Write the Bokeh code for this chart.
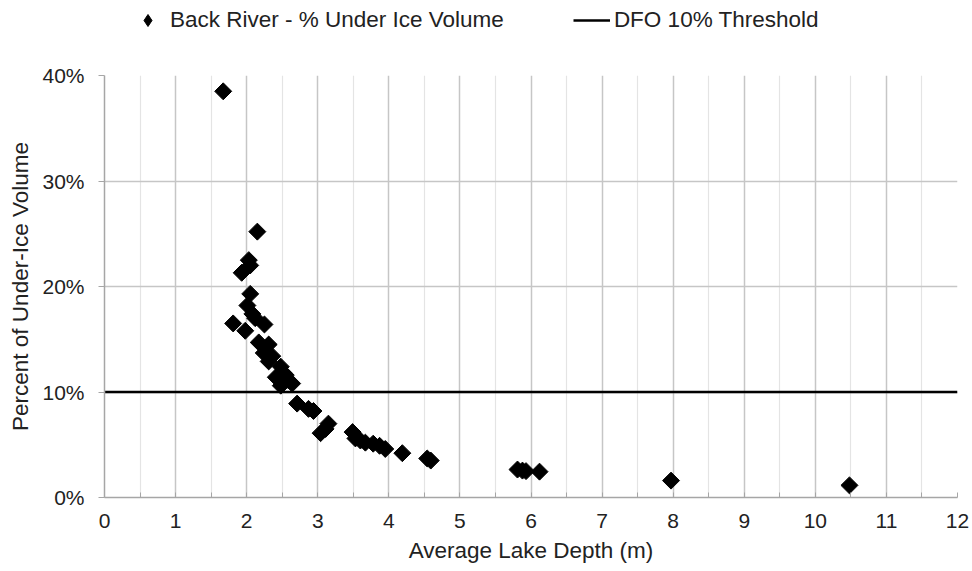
import math

from bokeh.embed import file_html
from bokeh.layouts import column
from bokeh.models import (FixedTicker, Legend, LegendItem, PrintfTickFormatter,
                          Range1d)
from bokeh.plotting import figure
from bokeh.resources import INLINE

# Average lake depth (m) and share of volume remaining under ice (%)
depth_m = [1.67, 2.15, 2.03, 2.05, 1.93, 2.05, 2.01, 2.08, 2.12, 1.81,
           1.98, 2.25, 2.17, 2.31, 2.24, 2.31, 2.36, 2.48, 2.41, 2.52,
           2.55, 2.59, 2.48, 2.64, 2.71, 2.87, 2.94, 3.15, 3.04, 3.11,
           3.49, 3.53, 3.60, 3.67, 3.78, 3.87, 3.95, 4.19, 4.54, 4.59,
           5.81, 5.88, 5.93, 6.12, 7.97, 10.48]
under_ice_pct = [38.5, 25.2, 22.5, 22.0, 21.3, 19.3, 18.2, 17.4, 17.0, 16.5,
                 15.8, 16.4, 14.7, 14.5, 13.7, 12.9, 13.4, 12.4, 11.4, 11.8,
                 11.6, 11.1, 10.6, 10.8, 8.9, 8.4, 8.2, 7.0, 6.1, 6.5,
                 6.2, 5.6, 5.4, 5.2, 5.1, 4.9, 4.6, 4.2, 3.7, 3.5,
                 2.65, 2.55, 2.5, 2.45, 1.6, 1.15]

threshold_pct = 10
x_ticks = list(range(0, 13))
y_ticks = [0, 10, 20, 30, 40]

series_label = "Back River - % Under Ice Volume"
threshold_label = "DFO 10% Threshold"

FONT = "Liberation Sans"
TEXT = "#222222"
LEGEND_H = 45

# ---------------------------------------------------------------- main chart
p = figure(width=972, height=571 - LEGEND_H, output_backend="svg",
           toolbar_location=None,
           x_range=Range1d(x_ticks[0], x_ticks[-1]),
           y_range=Range1d(y_ticks[0], y_ticks[-1]),
           min_border_left=104, min_border_right=15,
           min_border_top=30, min_border_bottom=74)
p.outline_line_color = None
p.background_fill_color = "white"
p.border_fill_color = "white"

# threshold line across the full depth range
p.line([x_ticks[0], x_ticks[-1]], [threshold_pct, threshold_pct],
       line_color="black", line_width=2.5)

# points drawn as diamonds (squares turned 45 degrees)
p.scatter(depth_m, under_ice_pct, marker="square", angle=math.pi / 4,
          size=12, fill_color="black", line_color="black")

# axes
p.xaxis.ticker = FixedTicker(ticks=x_ticks,
                             minor_ticks=[t + 0.5 for t in x_ticks[:-1]])
p.yaxis.ticker = FixedTicker(ticks=y_ticks, minor_ticks=[])
p.yaxis.formatter = PrintfTickFormatter(format="%d%%")

p.xaxis.axis_label = "Average Lake Depth (m)"
p.yaxis.axis_label = "Percent of Under-Ice Volume"

for ax in (p.xaxis, p.yaxis):
    ax.axis_line_color = "#a6a6a6"
    ax.axis_line_width = 1.5
    ax.major_tick_line_color = "#a6a6a6"
    ax.minor_tick_line_color = "#a6a6a6"
    ax.major_label_text_font = FONT
    ax.major_label_text_font_size = "21px"
    ax.major_label_text_color = TEXT
    ax.axis_label_text_font = FONT
    ax.axis_label_text_font_size = "22.5px"
    ax.axis_label_text_font_style = "normal"
    ax.axis_label_text_color = TEXT

p.xaxis.major_tick_in = 5
p.xaxis.major_tick_out = 0
p.xaxis.minor_tick_in = 5
p.xaxis.minor_tick_out = 0
p.xaxis.major_label_standoff = 16
p.xaxis.axis_label_standoff = 7

p.yaxis.major_tick_in = 0
p.yaxis.major_tick_out = 6
p.yaxis.minor_tick_in = 0
p.yaxis.minor_tick_out = 0
p.yaxis.major_label_standoff = 14
p.yaxis.axis_label_standoff = 6

# grid
p.xgrid.grid_line_color = "#c6c6c6"
p.xgrid.grid_line_width = 1.5
p.xgrid.minor_grid_line_color = "#e4e4e4"
p.xgrid.minor_grid_line_width = 1.2
p.ygrid.grid_line_color = "#c6c6c6"
p.ygrid.grid_line_width = 1.5

# ---------------------------------------------------------------- legend strip
lg = figure(width=972, height=LEGEND_H, output_backend="svg",
            toolbar_location=None, x_axis_location=None, y_axis_location=None,
            min_border=0, x_range=Range1d(0, 1), y_range=Range1d(0, 1))
lg.outline_line_color = None
lg.grid.visible = False
lg.border_fill_color = "white"

# hidden copies of the two series, used only for their legend swatches
key_pts = lg.scatter(depth_m, under_ice_pct, marker="diamond",
                     fill_color="black", line_color="black", visible=False)
key_thr = lg.line([x_ticks[0], x_ticks[-1]], [threshold_pct, threshold_pct],
                  line_color="black", line_width=2.5, visible=False)

# the strip's frame lines up with the chart frame, so x is measured from it
legend = Legend(items=[LegendItem(label=series_label, renderers=[key_pts]),
                       LegendItem(label=threshold_label, renderers=[key_thr])],
                location=(25, LEGEND_H - 35), orientation="horizontal",
                glyph_width=37, glyph_height=30, label_height=22,
                label_standoff=4, spacing=69, padding=0, margin=0,
                click_policy="none",
                border_line_color=None, background_fill_alpha=0,
                label_text_font=FONT, label_text_font_size="22.5px",
                label_text_color=TEXT)
lg.add_layout(legend, "center")

layout = column(lg, p, spacing=0)
open("out.html", "w").write(file_html(layout, INLINE))
